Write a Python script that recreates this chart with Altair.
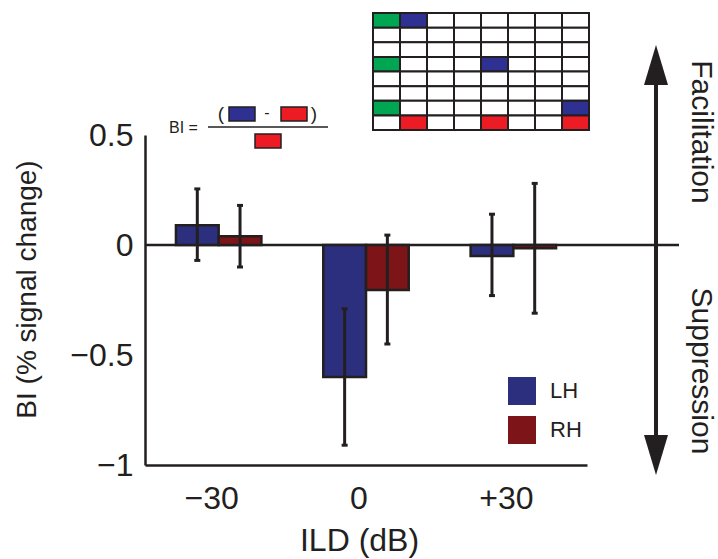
import altair as alt
import pandas as pd

# ---------------- data ----------------
ild = ["\u221230", "0", "+30"]
hemis = ["LH", "RH"]
lh_mean = [0.09, -0.60, -0.05]
rh_mean = [0.04, -0.205, -0.015]
lh_lo = [-0.07, -0.91, -0.23]
lh_hi = [0.255, -0.29, 0.14]
rh_lo = [-0.10, -0.45, -0.31]
rh_hi = [0.18, 0.045, 0.28]
y_ticks = [-1, -0.5, 0, 0.5]

grid_n_rows = 8
grid_n_cols = 8
green_cells = [(0, 0), (3, 0), (6, 0)]
blue_cells = [(0, 1), (3, 4), (6, 7)]
red_cells = [(7, 1), (7, 4), (7, 7)]

# ---------------- styles ----------------
FONT = "Liberation Sans"
INK = "#231f20"
LH_C = "#2b2f7e"
RH_C = "#7d1417"
G_GREEN = "#00a651"
G_BLUE = "#2e3192"
G_RED = "#ed1c24"

rows = []
for i, g in enumerate(ild):
    rows.append({"ild": g, "hemi": "LH", "mean": lh_mean[i], "lo": lh_lo[i], "hi": lh_hi[i]})
    rows.append({"ild": g, "hemi": "RH", "mean": rh_mean[i], "lo": rh_lo[i], "hi": rh_hi[i]})
df = pd.DataFrame(rows)

cells = []
for r in range(grid_n_rows):
    for c in range(grid_n_cols):
        kind = "w"
        if (r, c) in green_cells:
            kind = "g"
        elif (r, c) in blue_cells:
            kind = "b"
        elif (r, c) in red_cells:
            kind = "r"
        cells.append({"row": r, "col": c, "kind": kind})
grid_df = pd.DataFrame(cells)

one = pd.DataFrame({"a": [0]})

# ---------------- scales / axes ----------------
xscale = alt.Scale(domain=ild, paddingInner=0.42, paddingOuter=0.21)
xaxis = alt.Axis(
    ticks=False, grid=False, labelAngle=0, labelFont=FONT, labelFontSize=32,
    labelColor=INK, labelBaseline="alphabetic", labelPadding=43, labelOffset=-7,
    domainColor=INK, domainWidth=2.5,
    title="ILD (dB)", titleFont=FONT, titleFontSize=32, titleFontWeight="normal",
    titleColor=INK, titleX=214, titleY=85, titleAlign="center",
    titleBaseline="alphabetic",
)
yscale = alt.Scale(domain=[-1, 0.5], nice=False, zero=False)
yaxis = alt.Axis(
    values=y_ticks, format="~g", ticks=False, grid=False,
    labelFont=FONT, labelFontSize=32, labelColor=INK, labelPadding=12,
    domainColor=INK, domainWidth=2.5,
    title="BI (% signal change)", titleFont=FONT, titleFontSize=28,
    titleFontWeight="normal", titleColor=INK, titleX=-110, titleY=154,
    titleAngle=-90, titleAlign="center", titleBaseline="alphabetic",
)
xo = alt.XOffset("hemi:N", sort=hemis, scale=alt.Scale(domain=hemis, paddingInner=0, paddingOuter=0))
xenc = alt.X("ild:N", sort=ild, scale=xscale, axis=xaxis)

zero = alt.Chart(one).mark_rule(color=INK, strokeWidth=2.5).encode(
    y=alt.datum(0, scale=yscale, axis=yaxis), x=alt.value(0), x2=alt.value(534)
)

bars = alt.Chart(df).mark_bar(stroke=INK, strokeWidth=2.5).encode(
    x=xenc,
    xOffset=xo,
    y=alt.Y("mean:Q", scale=yscale, axis=yaxis),
    color=alt.Color(
        "hemi:N",
        scale=alt.Scale(domain=hemis, range=[LH_C, RH_C]),
        legend=alt.Legend(
            title=None, orient="none", legendX=363, legendY=242,
            symbolType="square", symbolSize=784, symbolStrokeWidth=0,
            symbolOpacity=1,
            labelFont=FONT, labelFontSize=22, labelColor=INK, labelOffset=14,
            rowPadding=11, padding=0,
        ),
    ),
)

err = alt.Chart(df).mark_rule(color=INK, strokeWidth=3).encode(
    x=xenc, xOffset=xo,
    y=alt.Y("lo:Q", scale=yscale, axis=yaxis), y2="hi:Q",
)
cap_lo = alt.Chart(df).mark_tick(color=INK, size=6, thickness=3, opacity=1).encode(
    x=xenc, xOffset=xo, y=alt.Y("lo:Q", scale=yscale, axis=yaxis)
)
cap_hi = alt.Chart(df).mark_tick(color=INK, size=6, thickness=3, opacity=1).encode(
    x=xenc, xOffset=xo, y=alt.Y("hi:Q", scale=yscale, axis=yaxis)
)

main = alt.layer(zero, bars, err, cap_lo, cap_hi)

# ---------------- stimulus grid ----------------
grid = alt.Chart(grid_df).mark_rect(stroke=INK, strokeWidth=2).encode(
    x=alt.X("col:O", scale=alt.Scale(range=[228, 444], paddingInner=0, paddingOuter=0), axis=None),
    y=alt.Y("row:O", scale=alt.Scale(range=[-122, -5], paddingInner=0, paddingOuter=0), axis=None),
    fill=alt.Fill("kind:N", scale=alt.Scale(domain=["w", "g", "b", "r"],
                                            range=["white", G_GREEN, G_BLUE, G_RED]), legend=None),
)

# ---------------- annotations ----------------
arrow_line = alt.Chart(one).mark_rule(color=INK, strokeWidth=4).encode(
    x=alt.value(511), y=alt.value(-55), y2=alt.value(305)
)
head_up = alt.Chart(one).mark_point(
    shape="M0,-1L0.6,1L-0.6,1Z", size=1600, filled=True, color=INK, opacity=1, strokeWidth=0
).encode(x=alt.value(511), y=alt.value(-70))
head_down = alt.Chart(one).mark_point(
    shape="M0,1L0.6,-1L-0.6,-1Z", size=1600, filled=True, color=INK, opacity=1, strokeWidth=0
).encode(x=alt.value(511), y=alt.value(320))

def txt(s, x, y, size, angle=0, align="center"):
    return alt.Chart(one).mark_text(
        font=FONT, fontSize=size, color=INK, angle=angle, align=align, baseline="middle"
    ).encode(x=alt.value(x), y=alt.value(y), text=alt.value(s))

facil = txt("Facilitation", 556, -3, 30, angle=90)
supp = txt("Suppression", 556, 236, 30, angle=90)

bi = txt("BI =", 24, -7, 16, align="left")
lpar = txt("(", 76, -21, 19)
minus = txt("-", 122, -22, 16)
rpar = txt(")", 169, -21, 19)
frac = alt.Chart(one).mark_rule(color=INK, strokeWidth=1.5).encode(
    x=alt.value(63), x2=alt.value(183), y=alt.value(-8)
)

def box(x1, x2, y1, y2, col):
    return alt.Chart(one).mark_rect(fill=col, stroke=INK, strokeWidth=1.5).encode(
        x=alt.value(x1), x2=alt.value(x2), y=alt.value(y1), y2=alt.value(y2)
    )

num_b = box(84, 110, -28, -14, G_BLUE)
num_r = box(136, 162, -28, -14, G_RED)
den_r = box(110, 136, -1, 13, G_RED)

chart = (
    alt.layer(main, grid, arrow_line, head_up, head_down, facil, supp,
              bi, lpar, minus, rpar, frac, num_b, num_r, den_r)
    .resolve_scale(x="independent", y="independent")
    .properties(
        width=442, height=330,
        padding={"left": 145, "top": 135, "right": 131, "bottom": 94},
        autosize=alt.AutoSizeParams(type="none"),
    )
    .configure_view(stroke="transparent")
)

chart.save("out.html", embed_options={"renderer": "svg", "actions": False})
